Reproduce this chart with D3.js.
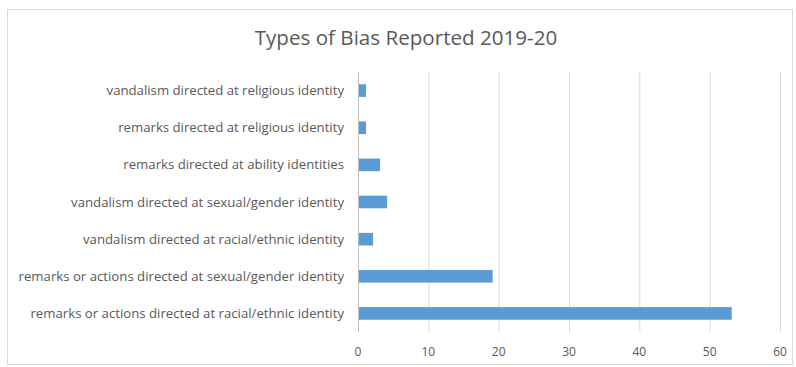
<!DOCTYPE html>
<html>
<head>
<meta charset="utf-8">
<script src="https://cdn.jsdelivr.net/npm/d3@7"></script>
<style>
  body { margin: 0; background: #fff; }
  svg { display: block; font-family: "Open Sans", "Liberation Sans", sans-serif; }
</style>
</head>
<body>
<svg id="chart" width="796" height="367"></svg>
<script>
const title = 'Types of Bias Reported 2019-20';
const categories = [
    'vandalism directed at religious identity',
    'remarks directed at religious identity',
    'remarks directed at ability identities',
    'vandalism directed at sexual/gender identity',
    'vandalism directed at racial/ethnic identity',
    'remarks or actions directed at sexual/gender identity',
    'remarks or actions directed at racial/ethnic identity'
];
const counts = [1, 1, 3, 4, 2, 19, 53];
const ticks = [0, 10, 20, 30, 40, 50, 60];

const svg = d3.select('#chart');
const plotLeft = 358, plotRight = 780, plotTop = 72, plotBottom = 332;

// chart area frame
svg.append('rect')
    .attr('x', 7.5).attr('y', 9.5)
    .attr('width', 785).attr('height', 355)
    .attr('fill', '#fff')
    .attr('stroke', '#d9d9d9');

svg.append('text')
    .attr('x', 406).attr('y', 45)
    .attr('text-anchor', 'middle')
    .attr('font-size', 20.6)
    .attr('fill', '#595959')
    .text(title);

const x = d3.scaleLinear().domain([0, 60]).range([plotLeft, plotRight]);
const y = d3.scaleBand().domain(categories).range([plotTop, plotBottom]).paddingInner(0.66).paddingOuter(0.33);

// gridlines
svg.append('g').selectAll('line')
    .data(ticks)
    .join('line')
    .attr('x1', d => x(d) + 0.5).attr('x2', d => x(d) + 0.5)
    .attr('y1', plotTop).attr('y2', plotBottom)
    .attr('stroke', d => d === 0 ? '#bfbfbf' : '#d9d9d9');

svg.append('g')
    .selectAll('rect')
    .data(counts)
    .join('rect')
    .attr('x', x(0) + 1)
    .attr('y', (d, i) => y(categories[i]))
    .attr('width', d => x(d) - x(0))
    .attr('height', y.bandwidth())
    .attr('fill', '#5b9bd5');

// category labels
svg.append('g').selectAll('text')
    .data(categories)
    .join('text')
    .attr('x', 344)
    .attr('y', d => y(d) + y.bandwidth() / 2)
    .attr('dy', '0.35em')
    .attr('text-anchor', 'end')
    .attr('font-size', 13.2)
    .attr('fill', '#595959')
    .text(d => d);

// value axis labels
svg.append('g').selectAll('text')
    .data(ticks)
    .join('text')
    .attr('x', d => x(d))
    .attr('y', 356)
    .attr('text-anchor', 'middle')
    .attr('font-size', 12)
    .attr('fill', '#595959')
    .text(d => d);
</script>
</body>
</html>
